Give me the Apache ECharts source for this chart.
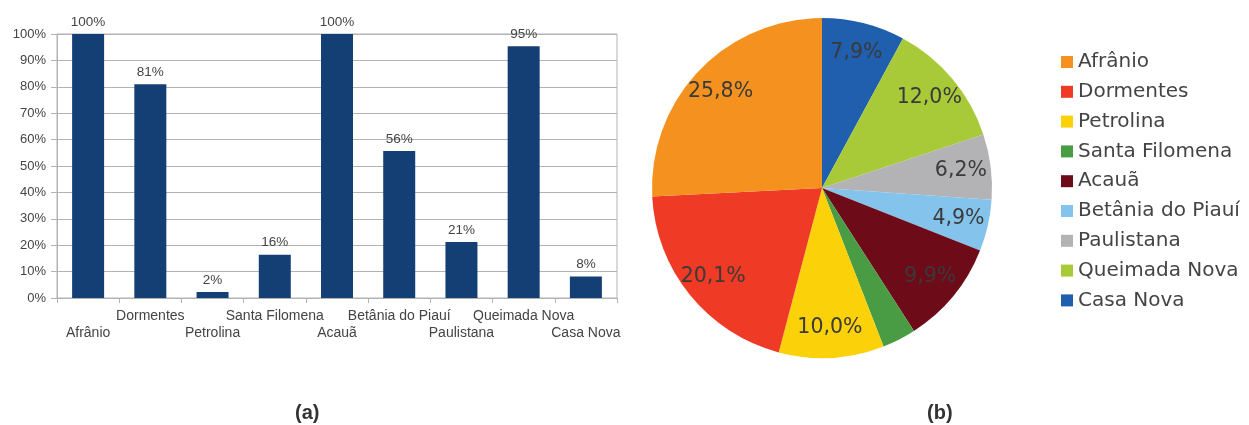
<!DOCTYPE html>
<html>
<head>
<meta charset="utf-8">
<script src="https://cdn.jsdelivr.net/npm/echarts@6/dist/echarts.min.js"></script>
<style>
html,body{margin:0;padding:0;background:#fff;}
#c{width:1249px;height:425px;}
</style>
</head>
<body>
<div id="c"></div>
<script>
// ---- data ----
const categories = ['Afrânio','Dormentes','Petrolina','Santa Filomena','Acauã','Betânia do Piauí','Paulistana','Queimada Nova','Casa Nova'];
const barValues = [100, 81, 2.3, 16.4, 100, 55.7, 21.2, 95.4, 8.1];
const yMin = 0, yMax = 100, yStep = 10;
const pieShares = [25.8, 20.1, 10.0, 3.2, 9.9, 4.9, 6.2, 12.0, 7.9];
const captions = ['(a)', '(b)'];

// ---- styles ----
const pieColors = ['#f5921f','#ef3a25','#fbd10a','#4a9c44','#6e0b19','#84c4ec','#b3b3b6','#a8ca38','#1f5fad'];
const barColor = '#143f75';
const gridColor = '#b3b3b3';

const pieData = categories.map((n, i) => ({ name: n, value: pieShares[i], itemStyle: { color: pieColors[i] } })).reverse();
const pieRing = categories.map((n, i) => ({ name: n, value: pieShares[i], itemStyle: { color: 'rgba(0,0,0,0)' } })).reverse();

const chart = echarts.init(document.getElementById('c'), null, { renderer: 'canvas' });
chart.setOption({
  animation: false,
  backgroundColor: '#fff',
  grid: { left: 57, right: 632, top: 34, bottom: 127, show: true, borderColor: gridColor, borderWidth: 1, containLabel: false },
  xAxis: {
    type: 'category',
    data: categories,
    boundaryGap: true,
    axisLine: { lineStyle: { color: gridColor, width: 1 } },
    axisTick: { show: true, length: 5, lineStyle: { color: gridColor } },
    axisLabel: {
      interval: 0,
      margin: 10,
      color: '#444',
      fontFamily: 'Liberation Sans',
      fontSize: 14,
      lineHeight: 17,
      formatter: (v, i) => (i % 2 === 0 ? '\n' + v : v)
    }
  },
  yAxis: {
    type: 'value',
    min: yMin, max: yMax, interval: yStep,
    axisLine: { show: true, lineStyle: { color: gridColor } },
    axisTick: { show: true, length: 6, lineStyle: { color: gridColor } },
    splitLine: { lineStyle: { color: gridColor, width: 1 } },
    axisLabel: { margin: 11, color: '#444', fontFamily: 'Liberation Sans', fontSize: 13, formatter: '{value}%' }
  },
  legend: {
    orient: 'vertical',
    left: 1061,
    top: 52,
    padding: 0,
    itemWidth: 12,
    itemHeight: 12,
    itemGap: 9.8,
    icon: 'rect',
    data: categories,
    textStyle: { color: '#444', fontFamily: 'DejaVu Sans', fontSize: 20, lineHeight: 20 }
  },
  series: [
    {
      type: 'bar',
      data: barValues,
      barWidth: 32,
      itemStyle: { color: barColor },
      label: {
        show: true, position: 'top', distance: 5,
        color: '#444', fontFamily: 'Liberation Sans', fontSize: 13.5,
        formatter: p => Math.round(p.value) + '%'
      }
    },
    {
      type: 'pie',
      center: [822, 188],
      radius: [0, 170],
      startAngle: 90,
      clockwise: true,
      data: pieData,
      label: { show: false },
      labelLine: { show: false },
      emphasis: { disabled: true }
    },
    {
      type: 'pie',
      center: [822, 188],
      radius: [104, 170],
      startAngle: 90,
      clockwise: true,
      silent: true,
      data: pieRing,
      label: {
        show: true, position: 'inside',
        color: '#3a3a3a', fontFamily: 'DejaVu Sans', fontSize: 20.5,
        formatter: p => p.value.toFixed(1).replace('.', ',') + '%'
      },
      labelLine: { show: false },
      emphasis: { disabled: true }
    }
  ],
  graphic: [
    { type: 'text', left: 295, top: 403, style: { text: captions[0], font: 'bold 20px "Liberation Sans"', fill: '#333' } },
    { type: 'text', left: 927, top: 403, style: { text: captions[1], font: 'bold 20px "Liberation Sans"', fill: '#333' } }
  ]
});
</script>
</body>
</html>
